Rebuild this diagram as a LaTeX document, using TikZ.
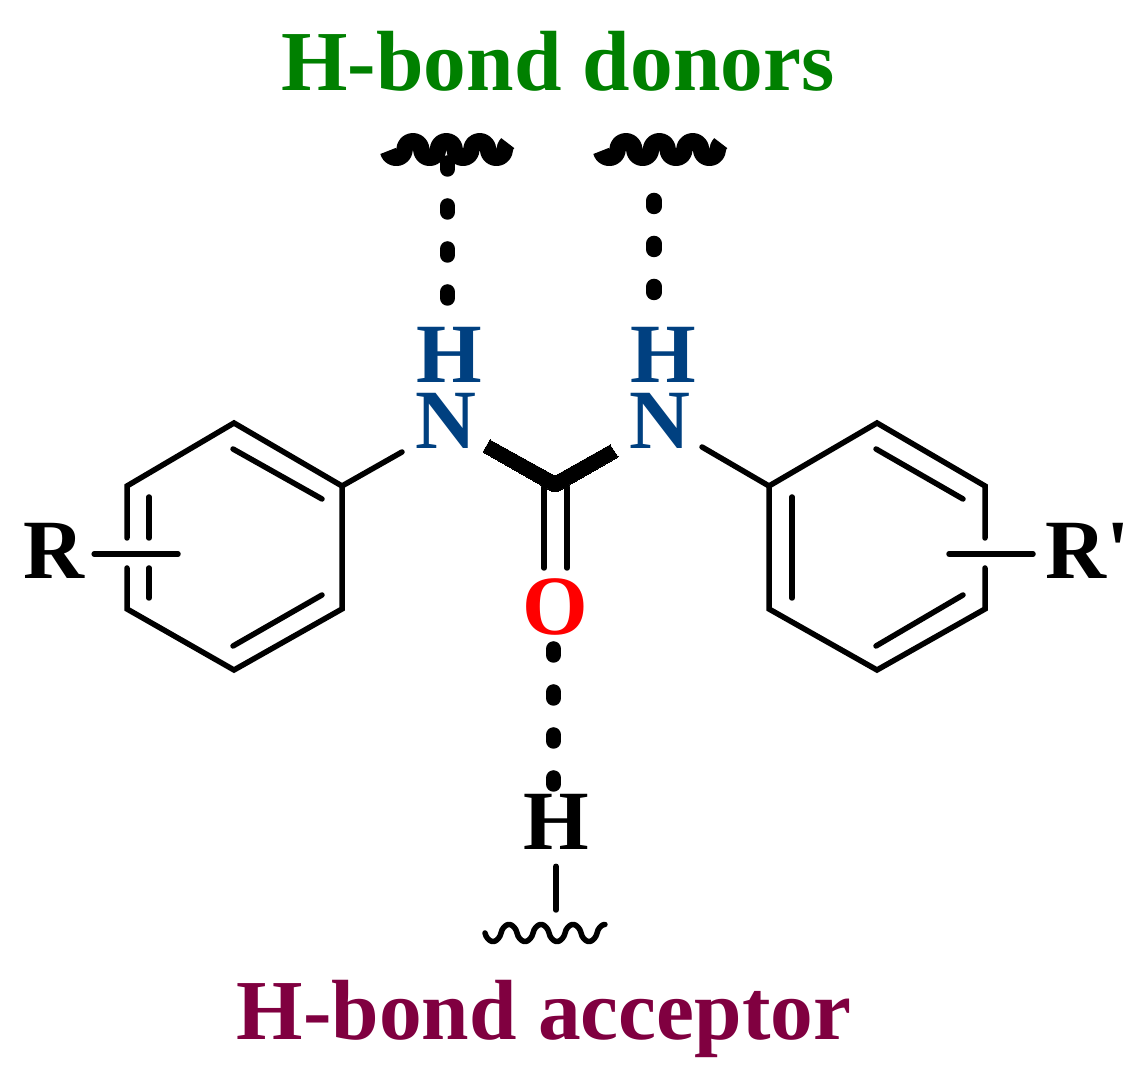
\documentclass[tikz,border=0pt]{standalone}
\usepackage{fontspec}
\setmainfont{Liberation Serif}
\definecolor{donorgreen}{RGB}{0,128,0}
\definecolor{acceptorred}{RGB}{128,0,64}
\definecolor{nitroblue}{RGB}{0,64,128}
\tikzset{
  atom/.style={font=\fontsize{24}{24}\selectfont\bfseries,inner sep=0pt},
  caption/.style={font=\fontsize{24.3}{24.3}\selectfont\bfseries,inner sep=0pt},
  bond/.style={line width=0.055cm,line cap=round,line join=miter},
  hbond/.style={line width=0.155cm,line cap=round,dash pattern=on 0.06cm off 0.37cm},
  thickwave/.style={line width=0.165cm,line cap=butt,line join=round},
  thinwave/.style={line width=0.055cm,line cap=round,line join=round},
}
\newcommand{\bumps}[2]{%
  \foreach \k in {1,...,#1} {arc[start angle=180,end angle=360,radius=#2] arc[start angle=180,end angle=0,radius=#2]}}
\begin{document}
\begin{tikzpicture}[x=1cm,y=-1cm]
\useasboundingbox (0,0) rectangle (11.43,10.78);
% labels
\node[caption,text=donorgreen] (donors) at (5.58,0.61) {H-bond donors};
\node[caption,text=acceptorred] (acceptor) at (5.44,10.19) {H-bond acceptor};
\node[atom,text=nitroblue] (hl) at (4.49,3.55) {H};
\node[atom,text=nitroblue] (hr) at (6.63,3.55) {H};
\node[atom,text=nitroblue] (nl) at (4.46,4.21) {N};
\node[atom,text=nitroblue] (nr) at (6.60,4.21) {N};
\node[atom,text=red] (oxy) at (5.55,6.07) {O};
\node[atom] (hb) at (5.56,8.22) {H};
\node[atom] (rl) at (0.54,5.505) {R};
\node[atom,anchor=west] (rr) at (10.45,5.505) {R\textquotesingle};
% left ring
\coordinate (a1) at (2.34,4.23);
\coordinate (a2) at (3.42,4.86);
\coordinate (a3) at (3.42,6.09);
\coordinate (a4) at (2.34,6.70);
\coordinate (a5) at (1.27,6.09);
\coordinate (a6) at (1.27,4.86);
\draw[bond] (1.27,5.38) -- (a6) -- (a1) -- (a2) -- (a3) -- (a4) -- (a5) -- (1.27,5.68);
\draw[bond] (2.33,4.49) -- (3.22,4.99);
\draw[bond] (3.22,5.95) -- (2.33,6.46);
\draw[bond] (1.49,4.97) -- (1.49,5.38);
\draw[bond] (1.49,5.68) -- (1.49,5.98);
% right ring
\coordinate (b1) at (8.77,4.23);
\coordinate (b2) at (9.85,4.86);
\coordinate (b3) at (9.85,6.09);
\coordinate (b4) at (8.77,6.70);
\coordinate (b5) at (7.69,6.09);
\coordinate (b6) at (7.69,4.86);
\draw[bond] (9.85,5.38) -- (b2) -- (b1) -- (b6) -- (b5) -- (b4) -- (b3) -- (9.85,5.68);
\draw[bond] (8.76,4.49) -- (9.63,4.99);
\draw[bond] (9.63,5.95) -- (8.76,6.46);
\draw[bond] (7.92,4.97) -- (7.92,5.98);
% substituents
\coordinate (sl) at (1.78,5.54);
\coordinate (sr) at (9.49,5.54);
\coordinate (al) at (4.02,4.52);
\coordinate (ar) at (7.02,4.47);
\draw[bond,shorten <=0.09cm] (rl.east |- sl) -- (sl);
\draw[bond,shorten <=0.12cm] (rr.west |- sr) -- (sr);
\draw[bond] (a2) -- (al);
\draw[bond] (b6) -- (ar);
% urea
\filldraw[line width=0pt] (4.90,4.40) -- (5.55,4.76) -- (6.10,4.45) -- (6.18,4.57)
  -- (5.57,4.92) -- (5.53,4.92) -- (4.83,4.52) -- cycle;
\draw[bond] (5.44,4.87) -- (5.44,5.68);
\draw[bond] (5.67,4.87) -- (5.67,5.68);
% hydrogen bonds
\coordinate (wl) at (4.475,1.63);
\coordinate (wr) at (6.54,2.005);
\coordinate (wo) at (5.535,6.49);
\draw[hbond] (wl) -- (wl |- hl.north);
\draw[hbond] (wr) -- (wr |- hr.north);
\draw[hbond] (wo) -- (wo |- hb.north);
\coordinate (tb) at (5.56,9.10);
\draw[bond,shorten <=0.16cm] (hb.south) -- (tb);
% wavy ends
\draw[thickwave] (3.88,1.51) arc[start angle=190,end angle=360,radius=0.0835cm]
  arc[start angle=180,end angle=0,radius=0.0835cm] \bumps{2}{0.0835cm}
  arc[start angle=180,end angle=360,radius=0.0835cm]
  arc[start angle=180,end angle=130,radius=0.0835cm];
\draw[thickwave] (6.01,1.51) arc[start angle=190,end angle=360,radius=0.0835cm]
  arc[start angle=180,end angle=0,radius=0.0835cm] \bumps{2}{0.0835cm}
  arc[start angle=180,end angle=360,radius=0.0835cm]
  arc[start angle=180,end angle=130,radius=0.0835cm];
\draw[thinwave] plot[domain=4.85:6.05,samples=121]
  (\x,{9.33+0.085*sign(sin(360*(\x-4.85)/0.32))*(abs(sin(360*(\x-4.85)/0.32))+0.0001)^0.65});
\end{tikzpicture}
\end{document}
